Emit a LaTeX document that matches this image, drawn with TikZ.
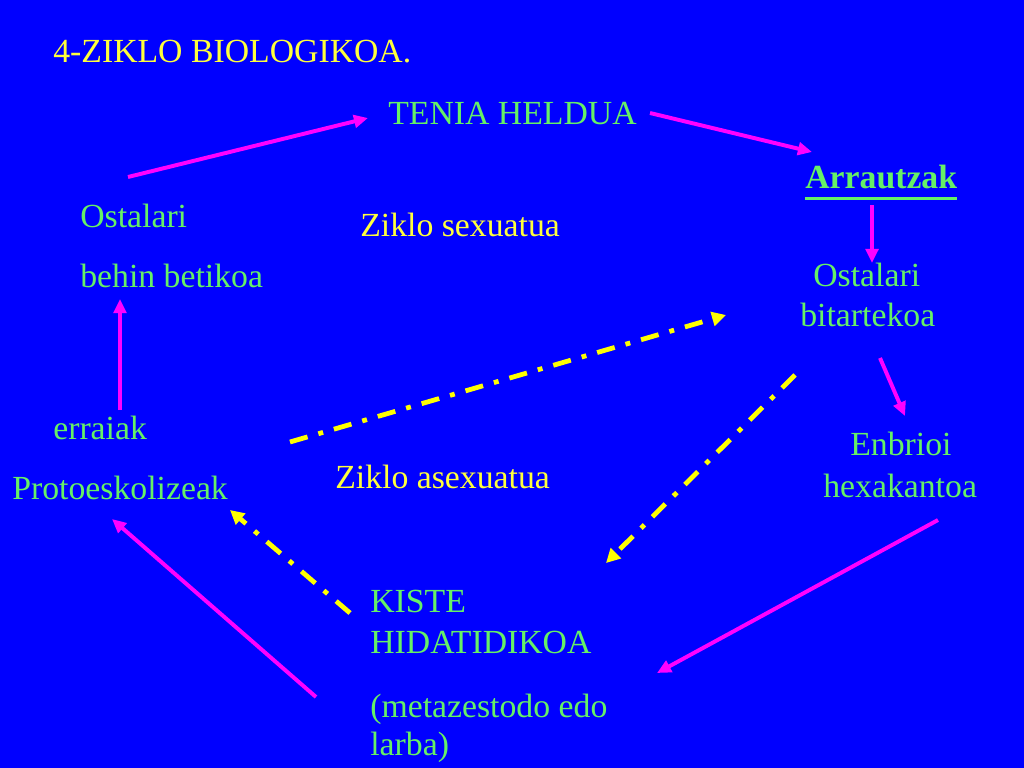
\documentclass[tikz,border=0pt]{standalone}
\usepackage{fontspec}
\setmainfont{Liberation Serif}
\usetikzlibrary{arrows.meta}
\definecolor{fondo}{RGB}{0,0,255}
\definecolor{berde}{RGB}{102,240,102}
\definecolor{hori}{RGB}{255,255,60}
\definecolor{gezi}{RGB}{255,0,255}
\definecolor{marra}{RGB}{255,255,0}

\begin{document}
\begin{tikzpicture}[
    x=0.025cm, y=-0.025cm,
    lbl/.style={anchor=base west, inner sep=0pt, text=berde, font=\fontsize{24}{28}\selectfont},
    ttl/.style={lbl, text=hori},
    cyc/.style={draw=gezi, line width=2.8pt, -{Triangle[length=10pt, width=9pt]}},
    asx/.style={draw=marra, line width=3.4pt, dash pattern=on 13pt off 8pt on 3.5pt off 8pt,
      -{Triangle[length=10pt, width=10pt]}},
    ]
    \fill[fondo] (0,0) rectangle (1024,768);

    \node[ttl] (izenb) at (53,63) {4-ZIKLO BIOLOGIKOA.};
    \node[lbl] (tenia) at (388,125) {TENIA HELDUA};
    \node[lbl, font=\fontsize{24}{28}\selectfont\bfseries] (arrau) at (805,189) {Arrautzak};
    \draw[berde, line width=2.2pt] ([yshift=-7pt]arrau.base west) -- ([yshift=-7pt]arrau.base east);
    \node[lbl] (ostA) at (80,227) {Ostalari};
    \node[lbl] (behin) at (80,287) {behin betikoa};
    \node[ttl] (sexu) at (360,236) {Ziklo sexuatua};
    \node[lbl] (ostB) at (813,286) {Ostalari};
    \node[lbl] (bitar) at (800,326) {bitartekoa};
    \node[lbl] (erra) at (53,439) {erraiak};
    \node[lbl] (proto) at (12,499) {Protoeskolizeak};
    \node[lbl] (enbr) at (850,455) {Enbrioi};
    \node[lbl] (hexa) at (823,497) {hexakantoa};
    \node[ttl] (asexu) at (335,488) {Ziklo asexuatua};
    \node[lbl] (kiste) at (370,612) {KISTE};
    \node[lbl] (hida) at (370,653) {HIDATIDIKOA};
    \node[lbl] (meta) at (370,717) {(metazestodo edo};
    \node[lbl] (larba) at (370,755) {larba)};

    \coordinate (g1a) at (128,177);
    \coordinate (g1b) at (368,118);
    \coordinate (g2a) at (650,113);
    \coordinate (g2b) at (812,152);
    \coordinate (g3a) at (872,205);
    \coordinate (g3b) at (872,263);
    \coordinate (g4a) at (880,358);
    \coordinate (g4b) at (905,416);
    \coordinate (g5a) at (938,520);
    \coordinate (g5b) at (657,673);
    \coordinate (g6a) at (316,697);
    \coordinate (g6b) at (112,519);
    \coordinate (g7a) at (120,410);
    \coordinate (g7b) at (120,299);
    \draw[cyc] (g1a) -- (g1b);
    \draw[cyc] (g2a) -- (g2b);
    \draw[cyc] (g3a) -- (g3b);
    \draw[cyc] (g4a) -- (g4b);
    \draw[cyc] (g5a) -- (g5b);
    \draw[cyc] (g6a) -- (g6b);
    \draw[cyc] (g7a) -- (g7b);

    \coordinate (m1a) at (290,442);
    \coordinate (m1b) at (726,315);
    \coordinate (m2a) at (795,375);
    \coordinate (m2b) at (606,563);
    \coordinate (m3a) at (350,613);
    \coordinate (m3b) at (230,510);
    \draw[asx] (m1a) -- (m1b);
    \draw[asx] (m2a) -- (m2b);
    \draw[asx] (m3a) -- (m3b);
  \end{tikzpicture}
\end{document}
